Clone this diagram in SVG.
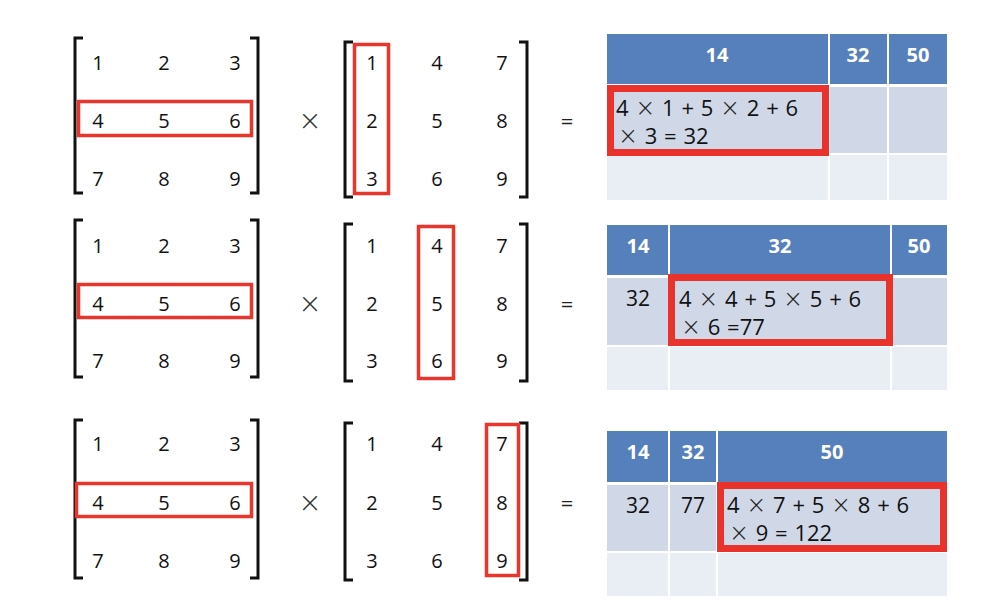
<svg xmlns="http://www.w3.org/2000/svg" width="1003" height="613" viewBox="0 0 1003 613">
<style>
.br{fill:none;stroke:#111;stroke-width:3}
.hl{fill:none;stroke:#E8352D;stroke-width:3.5}
.hb{fill:none;stroke:#E8322B;stroke-width:7}
.n{font-family:"Open Sans","Liberation Sans",sans-serif;font-size:20px;fill:#111;text-anchor:middle;dominant-baseline:central}
.op{font-family:"DejaVu Sans","Liberation Sans",sans-serif;font-size:28px;fill:#333;text-anchor:middle;dominant-baseline:central;font-weight:200}
.eq{font-family:"Open Sans","Liberation Sans",sans-serif;font-size:22px;fill:#222;text-anchor:middle;dominant-baseline:central}
.h{fill:#5680BC}
.r2{fill:#D0D8E8}
.r3{fill:#E9EDF4}
.ht{font-family:"Open Sans","Liberation Sans",sans-serif;font-size:20px;font-weight:bold;fill:#fff;text-anchor:middle;dominant-baseline:central}
.ct{font-family:"Open Sans","Liberation Sans",sans-serif;font-size:21px;fill:#111;text-anchor:middle;dominant-baseline:central}
.ft{font-family:"Open Sans","Liberation Sans",sans-serif;font-size:22px;fill:#111;word-spacing:1px}
.x{font-family:"DejaVu Sans",sans-serif;font-weight:200;font-size:24px;fill:#222}
</style>
<rect width="1003" height="613" fill="#fff"/>

<g id="row1">
  <g id="m1a">
    <path class="br" d="M83,38 H75 V193 H83 M250,38 H258 V193 H250"/>
    <text class="n" x="98" y="62">1</text><text class="n" x="164" y="62">2</text><text class="n" x="235" y="62">3</text>
    <text class="n" x="98" y="120">4</text><text class="n" x="164" y="120">5</text><text class="n" x="235" y="120">6</text>
    <text class="n" x="98" y="178">7</text><text class="n" x="164" y="178">8</text><text class="n" x="235" y="178">9</text>
    <rect class="hl" x="78.5" y="101.5" width="173" height="34"/>
  </g>
  <text class="op" x="310" y="120">×</text>
  <g id="m1b">
    <path class="br" d="M353,42 H345 V197 H353 M519,42 H527 V197 H519"/>
    <text class="n" x="372" y="62">1</text><text class="n" x="437" y="62">4</text><text class="n" x="502" y="62">7</text>
    <text class="n" x="372" y="120">2</text><text class="n" x="437" y="120">5</text><text class="n" x="502" y="120">8</text>
    <text class="n" x="372" y="178">3</text><text class="n" x="437" y="178">6</text><text class="n" x="502" y="178">9</text>
    <rect class="hl" x="354.5" y="44.5" width="34" height="149"/>
  </g>
  <text class="eq" x="567" y="120">=</text>
  <g id="t1">
    <rect class="h" x="607" y="34" width="221" height="50"/><rect class="h" x="830" y="34" width="57" height="50"/><rect class="h" x="889" y="34" width="58" height="50"/>
    <rect class="r2" x="607" y="87" width="221" height="66"/><rect class="r2" x="830" y="87" width="57" height="66"/><rect class="r2" x="889" y="87" width="58" height="66"/>
    <rect class="r3" x="607" y="155" width="221" height="45"/><rect class="r3" x="830" y="155" width="57" height="45"/><rect class="r3" x="889" y="155" width="58" height="45"/>
    <text class="ht" x="717" y="54">14</text><text class="ht" x="858" y="54">32</text><text class="ht" x="918" y="54">50</text>
    <rect class="hb" x="610.5" y="88.5" width="215" height="64"/>
    <text class="ft" x="616" y="116">4 <tspan class="x">×</tspan> 1 + 5 <tspan class="x">×</tspan> 2 + 6</text>
    <text class="ft" x="618" y="144"><tspan class="x">×</tspan> 3 = 32</text>
  </g>
</g>

<g id="row2">
  <g id="m2a">
    <path class="br" d="M83,220 H75 V377 H83 M250,220 H258 V377 H250"/>
    <text class="n" x="98" y="245">1</text><text class="n" x="164" y="245">2</text><text class="n" x="235" y="245">3</text>
    <text class="n" x="98" y="303">4</text><text class="n" x="164" y="303">5</text><text class="n" x="235" y="303">6</text>
    <text class="n" x="98" y="360">7</text><text class="n" x="164" y="360">8</text><text class="n" x="235" y="360">9</text>
    <rect class="hl" x="78.5" y="284.5" width="173" height="33"/>
  </g>
  <text class="op" x="310" y="303">×</text>
  <g id="m2b">
    <path class="br" d="M353,224 H345 V381 H353 M519,224 H527 V381 H519"/>
    <text class="n" x="372" y="245">1</text><text class="n" x="437" y="245">4</text><text class="n" x="502" y="245">7</text>
    <text class="n" x="372" y="303">2</text><text class="n" x="437" y="303">5</text><text class="n" x="502" y="303">8</text>
    <text class="n" x="372" y="360">3</text><text class="n" x="437" y="360">6</text><text class="n" x="502" y="360">9</text>
    <rect class="hl" x="418.5" y="226.5" width="35" height="152"/>
  </g>
  <text class="eq" x="567" y="303">=</text>
  <g id="t2">
    <rect class="h" x="607" y="225" width="61" height="50"/><rect class="h" x="670" y="225" width="220" height="50"/><rect class="h" x="892" y="225" width="55" height="50"/>
    <rect class="r2" x="607" y="278" width="61" height="67"/><rect class="r2" x="670" y="278" width="220" height="67"/><rect class="r2" x="892" y="278" width="55" height="67"/>
    <rect class="r3" x="607" y="347" width="61" height="43"/><rect class="r3" x="670" y="347" width="220" height="43"/><rect class="r3" x="892" y="347" width="55" height="43"/>
    <text class="ht" x="638" y="245">14</text><text class="ht" x="780" y="245">32</text><text class="ht" x="919" y="245">50</text>
    <text class="ct" x="638" y="298">32</text>
    <rect class="hb" x="671.5" y="277.5" width="218" height="65"/>
    <text class="ft" x="679" y="307">4 <tspan class="x">×</tspan> 4 + 5 <tspan class="x">×</tspan> 5 + 6</text>
    <text class="ft" x="681" y="335"><tspan class="x">×</tspan> 6 =77</text>
  </g>
</g>

<g id="row3">
  <g id="m3a">
    <path class="br" d="M83,420 H75 V578 H83 M250,420 H258 V578 H250"/>
    <text class="n" x="98" y="443">1</text><text class="n" x="164" y="443">2</text><text class="n" x="235" y="443">3</text>
    <text class="n" x="98" y="502">4</text><text class="n" x="164" y="502">5</text><text class="n" x="235" y="502">6</text>
    <text class="n" x="98" y="560">7</text><text class="n" x="164" y="560">8</text><text class="n" x="235" y="560">9</text>
    <rect class="hl" x="76.5" y="483.5" width="175" height="33"/>
  </g>
  <text class="op" x="310" y="502">×</text>
  <g id="m3b">
    <path class="br" d="M353,423 H345 V580 H353 M519,423 H527 V580 H519"/>
    <text class="n" x="372" y="443">1</text><text class="n" x="437" y="443">4</text><text class="n" x="502" y="443">7</text>
    <text class="n" x="372" y="502">2</text><text class="n" x="437" y="502">5</text><text class="n" x="502" y="502">8</text>
    <text class="n" x="372" y="560">3</text><text class="n" x="437" y="560">6</text><text class="n" x="502" y="560">9</text>
    <rect class="hl" x="486.5" y="424.5" width="32" height="151"/>
  </g>
  <text class="eq" x="567" y="502">=</text>
  <g id="t3">
    <rect class="h" x="607" y="431" width="61" height="51"/><rect class="h" x="670" y="431" width="46" height="51"/><rect class="h" x="718" y="431" width="229" height="51"/>
    <rect class="r2" x="607" y="485" width="61" height="66"/><rect class="r2" x="670" y="485" width="46" height="66"/><rect class="r2" x="718" y="485" width="229" height="66"/>
    <rect class="r3" x="607" y="553" width="61" height="43"/><rect class="r3" x="670" y="553" width="46" height="43"/><rect class="r3" x="718" y="553" width="229" height="43"/>
    <text class="ht" x="638" y="451">14</text><text class="ht" x="693" y="451">32</text><text class="ht" x="832" y="451">50</text>
    <text class="ct" x="638" y="505">32</text><text class="ct" x="693" y="505">77</text>
    <rect class="hb" x="720.5" y="485.5" width="223" height="63"/>
    <text class="ft" x="727" y="513">4 <tspan class="x">×</tspan> 7 + 5 <tspan class="x">×</tspan> 8 + 6</text>
    <text class="ft" x="729" y="541"><tspan class="x">×</tspan> 9 = 122</text>
  </g>
</g>
</svg>
